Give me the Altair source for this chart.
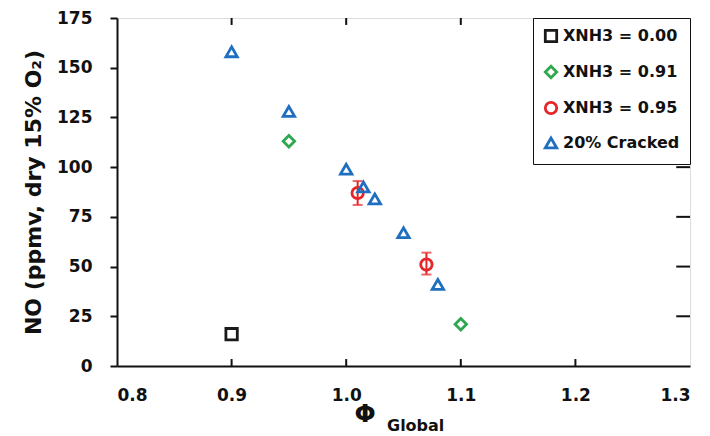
import altair as alt
import pandas as pd

# Measured NO emissions versus global equivalence ratio
series = ["XNH3 = 0.00", "XNH3 = 0.91", "XNH3 = 0.91", "XNH3 = 0.95", "XNH3 = 0.95",
          "20% Cracked", "20% Cracked", "20% Cracked", "20% Cracked", "20% Cracked",
          "20% Cracked", "20% Cracked"]
phi = [0.90, 0.95, 1.10, 1.01, 1.07, 0.90, 0.95, 1.00, 1.015, 1.025, 1.05, 1.08]
no_ppm = [16, 113, 21, 87, 51, 158, 128, 99, 90, 84, 67, 41]

# Error bars on the XNH3 = 0.95 points
err_phi = [1.01, 1.07]
err_lo = [81, 46]
err_hi = [93, 57]

order = ["XNH3 = 0.00", "XNH3 = 0.91", "XNH3 = 0.95", "20% Cracked"]
colors = ["#1a1a1a", "#2ea84f", "#e5252a", "#1f6fc0"]
shapes = ["square", "diamond", "circle", "triangle-up"]
sizes = [130, 130, 150, 200]

x_ticks = [0.8, 0.9, 1.0, 1.1, 1.2, 1.3]
y_ticks = [0, 25, 50, 75, 100, 125, 150, 175]

df = pd.DataFrame({"series": series, "phi": phi, "no": no_ppm})
err = pd.DataFrame({"phi": err_phi, "lo": err_lo, "hi": err_hi})

FONT = "DejaVu Sans"
INK = "#111"

xs = alt.Scale(domain=[0.8, 1.3], nice=False, zero=False)
ys = alt.Scale(domain=[0, 175], nice=False)

points = alt.Chart(df).mark_point(filled=False, strokeWidth=2.8, opacity=1).encode(
    x=alt.X("phi:Q", scale=xs,
            axis=alt.Axis(values=x_ticks, format=".1f", title=None, ticks=False,
                          labelPadding=21, labelFontSize=17, labelFontWeight="bold",
                          labelColor=INK, domainColor=INK, domainWidth=2, grid=False)),
    y=alt.Y("no:Q", scale=ys,
            axis=alt.Axis(values=y_ticks, title="NO (ppmv, dry 15% O₂)", tickSize=7,
                          tickWidth=2, tickColor=INK, labelPadding=18,
                          labelFontSize=17, labelFontWeight="bold", labelColor=INK,
                          titleFontSize=22, titleFontWeight="bold", titleColor=INK,
                          titlePadding=11, domainColor=INK, domainWidth=2, grid=False)),
    color=alt.Color("series:N", scale=alt.Scale(domain=order, range=colors),
                    legend=alt.Legend(title=None, orient="none", legendX=416, legendY=0,
                                      fillColor="white", strokeColor=INK,
                                      labelFontSize=16, labelFontWeight="bold",
                                      labelColor=INK, labelFont=FONT,
                                      symbolStrokeWidth=2.8, symbolSize=110,
                                      rowPadding=12, padding=10, labelOffset=4)),
    shape=alt.Shape("series:N", scale=alt.Scale(domain=order, range=shapes)),
    size=alt.Size("series:N", scale=alt.Scale(domain=order, range=sizes), legend=None),
)

bars = alt.Chart(err).mark_rule(color="#e5252a", strokeWidth=2).encode(
    x="phi:Q", y="lo:Q", y2="hi:Q")
caps_hi = alt.Chart(err).mark_tick(color="#e5252a", thickness=2, size=10,
                                   orient="horizontal").encode(x="phi:Q", y="hi:Q")
caps_lo = alt.Chart(err).mark_tick(color="#e5252a", thickness=2, size=10,
                                   orient="horizontal").encode(x="phi:Q", y="lo:Q")

# Inward ticks on the bottom, top and right sides of the frame
xt = pd.DataFrame({"v": x_ticks[1:-1]})
yt = pd.DataFrame({"v": y_ticks[1:-1]})
bottom_ticks = alt.Chart(xt).mark_rule(color=INK, strokeWidth=2).encode(
    x="v:Q", y=alt.datum(0), y2=alt.datum(3.5))
top_ticks = alt.Chart(xt).mark_rule(color=INK, strokeWidth=2).encode(
    x="v:Q", y=alt.datum(175), y2=alt.datum(171.5))
right_ticks = alt.Chart(yt).mark_rule(color=INK, strokeWidth=2).encode(
    y="v:Q", x=alt.datum(1.3), x2=alt.datum(1.288))

# x-axis title: Φ with a "Global" subscript
phi_label = alt.Chart(pd.DataFrame({"t": ["Φ"]})).mark_text(
    fontSize=25, font=FONT, fontWeight="bold", color=INK, baseline="alphabetic").encode(
    text="t:N", x=alt.value(248), y=alt.value(404))
global_label = alt.Chart(pd.DataFrame({"t": ["Global"]})).mark_text(
    fontSize=16, font=FONT, fontWeight="bold", color=INK, align="left",
    baseline="alphabetic").encode(text="t:N", x=alt.value(270), y=alt.value(413))

chart = alt.layer(bottom_ticks, top_ticks, right_ticks, bars, caps_hi, caps_lo, points,
                  phi_label, global_label).properties(
    width=573, height=348,
    autosize=alt.AutoSizeParams(type="none"),
    padding={"left": 117, "top": 18, "right": 20, "bottom": 70},
).configure_view(stroke=INK, strokeWidth=2).configure(
    font=FONT, background="white")

chart.save("out.html", embed_options={"renderer": "svg", "actions": False})
